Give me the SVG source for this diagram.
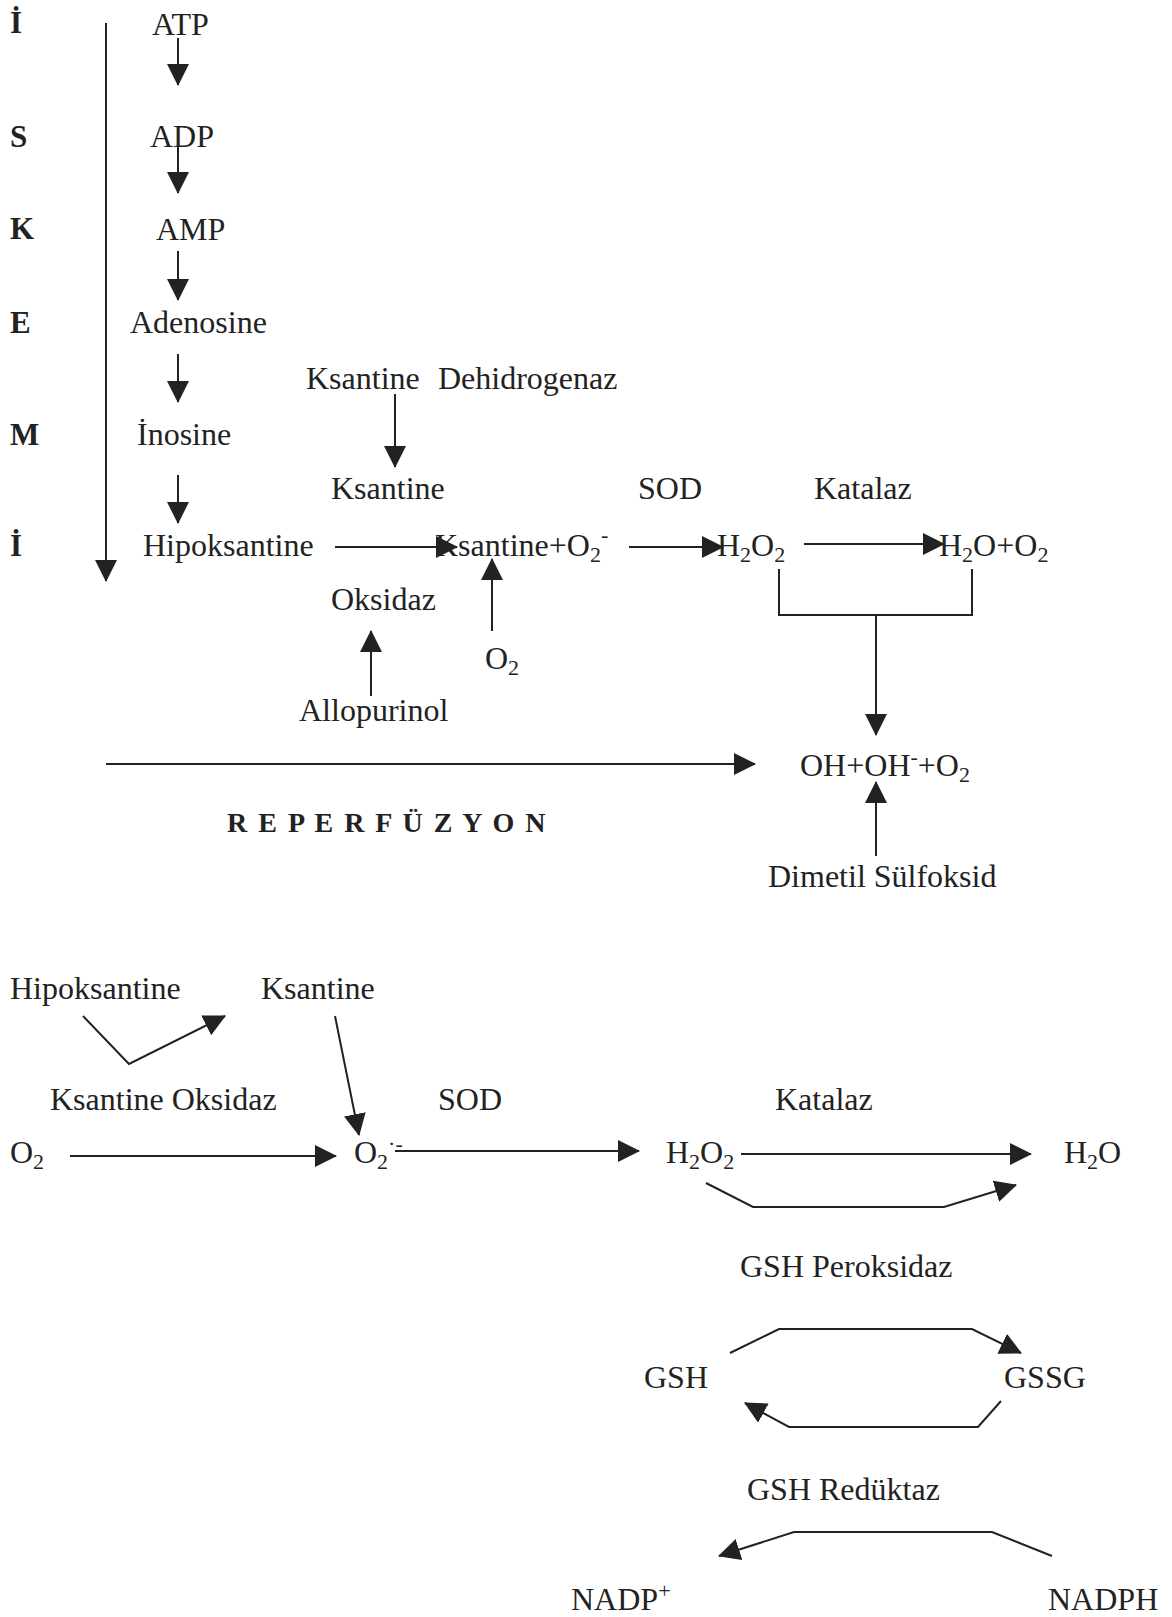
<svg xmlns="http://www.w3.org/2000/svg" width="1172" height="1617" viewBox="0 0 1172 1617">
<style>
text{font-family:"Liberation Serif","Times New Roman",serif;font-size:32px;fill:#222}
.b{font-weight:bold;font-size:31px}
.rep{font-weight:bold;font-size:28px;letter-spacing:2px}
.c{stroke:#222;stroke-width:2;fill:none}
.a{marker-end:url(#ah)}
</style>
<defs>
<marker id="ah" markerUnits="userSpaceOnUse" markerWidth="22" markerHeight="22" viewBox="0 0 22 22" refX="21" refY="11" orient="auto">
<path d="M0,0 L22,11 L0,22 z" fill="#222"/>
</marker>
</defs>
<rect width="1172" height="1617" fill="#fff"/>

<g id="ischemia-label">
<text class="b" x="10" y="33">İ</text>
<text class="b" x="10" y="147">S</text>
<text class="b" x="10" y="239">K</text>
<text class="b" x="10" y="333">E</text>
<text class="b" x="10" y="445">M</text>
<text class="b" x="10" y="556">İ</text>
</g>
<g id="n-atp"><text x="152" y="35">ATP</text></g>
<g id="n-adp"><text x="150" y="147">ADP</text></g>
<g id="n-amp"><text x="156" y="240">AMP</text></g>
<g id="n-adenosine"><text x="130" y="333">Adenosine</text></g>
<g id="n-inosine"><text x="137" y="445">İnosine</text></g>
<g id="n-hipoksantine1"><text x="143" y="556">Hipoksantine</text></g>
<g id="n-ksdh"><text x="306" y="389">Ksantine</text><text x="438" y="389">Dehidrogenaz</text></g>
<g id="n-ksantine1"><text x="331" y="499">Ksantine</text></g>
<g id="n-oksidaz"><text x="331" y="610">Oksidaz</text></g>
<g id="n-ksantine-o2"><text x="435" y="556">Ksantine+O<tspan font-size="22" dy="6">2</tspan><tspan font-size="22" dy="-20">-</tspan></text></g>
<g id="n-o2a"><text x="485" y="669">O<tspan font-size="22" dy="6">2</tspan></text></g>
<g id="n-allopurinol"><text x="299" y="721">Allopurinol</text></g>
<g id="n-sod1"><text x="638" y="499">SOD</text></g>
<g id="n-katalaz1"><text x="814" y="499">Katalaz</text></g>
<g id="n-h2o2a"><text x="717" y="556">H<tspan font-size="22" dy="6">2</tspan><tspan dy="-6">O</tspan><tspan font-size="22" dy="6">2</tspan></text></g>
<g id="n-h2o-o2"><text x="939" y="556">H<tspan font-size="22" dy="6">2</tspan><tspan dy="-6">O+O</tspan><tspan font-size="22" dy="6">2</tspan></text></g>
<g id="n-oh"><text x="800" y="776">OH+OH<tspan font-size="22" dy="-12">-</tspan><tspan dy="12">+O</tspan><tspan font-size="22" dy="6">2</tspan></text></g>
<g id="n-dmso"><text x="768" y="887">Dimetil Sülfoksid</text></g>
<g id="n-reperfuzyon"><text class="rep" x="227" y="832">R E P E R F Ü Z Y O N</text></g>

<g id="n-hipoksantine2"><text x="10" y="999">Hipoksantine</text></g>
<g id="n-ksantine2"><text x="261" y="999">Ksantine</text></g>
<g id="n-ko"><text x="50" y="1110">Ksantine Oksidaz</text></g>
<g id="n-sod2"><text x="438" y="1110">SOD</text></g>
<g id="n-katalaz2"><text x="775" y="1110">Katalaz</text></g>
<g id="n-o2b"><text x="10" y="1163">O<tspan font-size="22" dy="6">2</tspan></text></g>
<g id="n-superoxide"><text x="354" y="1163">O<tspan font-size="22" dy="6">2</tspan><tspan font-size="22" dy="-18">·-</tspan></text></g>
<g id="n-h2o2b"><text x="666" y="1163">H<tspan font-size="22" dy="6">2</tspan><tspan dy="-6">O</tspan><tspan font-size="22" dy="6">2</tspan></text></g>
<g id="n-h2o"><text x="1064" y="1163">H<tspan font-size="22" dy="6">2</tspan><tspan dy="-6">O</tspan></text></g>
<g id="n-gshp"><text x="740" y="1277">GSH Peroksidaz</text></g>
<g id="n-gsh"><text x="644" y="1388">GSH</text></g>
<g id="n-gssg"><text x="1004" y="1388">GSSG</text></g>
<g id="n-gshr"><text x="747" y="1500">GSH Redüktaz</text></g>
<g id="n-nadp"><text x="571" y="1610">NADP<tspan font-size="22" dy="-12">+</tspan></text></g>
<g id="n-nadph"><text x="1048" y="1610">NADPH</text></g>

<g id="connectors">
<path class="c a" d="M106,23 V581"/>
<path class="c a" d="M178,38 V85"/>
<path class="c a" d="M178,138 V193"/>
<path class="c a" d="M178,251 V300"/>
<path class="c a" d="M178,354 V402"/>
<path class="c a" d="M178,475 V523"/>
<path class="c a" d="M395,394 V467"/>
<path class="c a" d="M335,547 H457"/>
<path class="c a" d="M492,631 V559"/>
<path class="c a" d="M371,696 V631"/>
<path class="c a" d="M629,547 H723"/>
<path class="c a" d="M804,544 H944"/>
<path class="c" d="M779,569 V615 H972 V569"/>
<path class="c a" d="M876,615 V735"/>
<path class="c a" d="M876,856 V782"/>
<path class="c a" d="M106,764 H755"/>

<path class="c a" d="M83,1016 L129,1064 L225,1016"/>
<path class="c a" d="M335,1016 L359,1135"/>
<path class="c a" d="M70,1156 H336"/>
<path class="c a" d="M395,1151 H639"/>
<path class="c a" d="M741,1154 H1031"/>
<path class="c a" d="M706,1183 L753,1207 H944 L1016,1185"/>
<path class="c a" d="M730,1353 L779,1329 H972 L1021,1353"/>
<path class="c a" d="M1001,1401 L978,1427 H789 L745,1403"/>
<path class="c a" d="M1052,1556 L992,1532 H794 L719,1556"/>
</g>
</svg>
